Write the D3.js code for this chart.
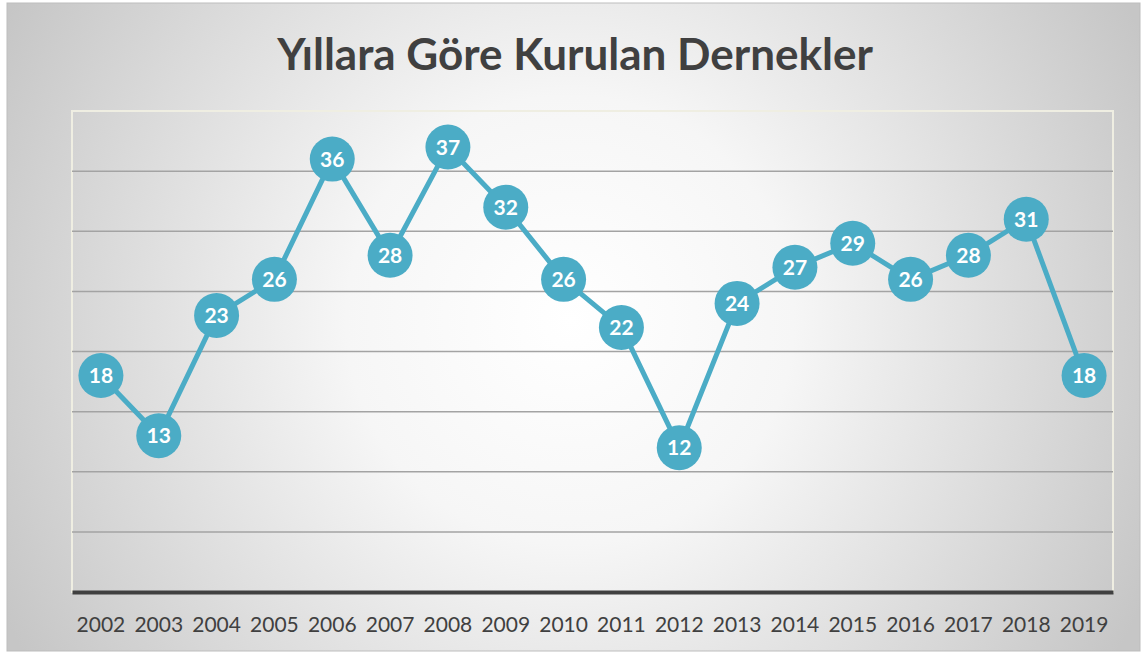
<!DOCTYPE html>
<html><head><meta charset="utf-8">
<script src="https://cdn.jsdelivr.net/npm/d3@7"></script>
<style>html,body{margin:0;padding:0;background:#fff;}svg{display:block;}</style>
</head><body>
<script>
const years = ["2002","2003","2004","2005","2006","2007","2008","2009","2010","2011","2012","2013","2014","2015","2016","2017","2018","2019"];
const counts = [18,13,23,26,36,28,37,32,26,22,12,24,27,29,26,28,31,18];
const yTicks = [0,5,10,15,20,25,30,35,40];
const title = "Yıllara Göre Kurulan Dernekler";

(function(){
const W = 1141, H = 653;
const svg = d3.select("body").append("svg").attr("width", W).attr("height", H);
const defs = svg.append("defs");
const grad = defs.append("radialGradient").attr("id","bg")
  .attr("gradientUnits","userSpaceOnUse").attr("cx",570).attr("cy",320).attr("r",640);
grad.append("stop").attr("offset","0%").attr("stop-color","#ffffff");
grad.append("stop").attr("offset","35%").attr("stop-color","#f6f6f6");
grad.append("stop").attr("offset","100%").attr("stop-color","#c6c6c6");

svg.append("rect").attr("x",7).attr("y",3).attr("width",1133).attr("height",648)
  .attr("fill","url(#bg)").attr("stroke","#bdbdbd").attr("stroke-width",1);

const pL = 72, pR = 1113, pT = 111, pB = 592;
const x = d3.scaleBand().domain(years).range([pL,pR]);
const y = d3.scaleLinear().domain([0,40]).range([pB, pT]);

svg.append("rect").attr("x",pL).attr("y",pT).attr("width",pR-pL).attr("height",pB-pT)
  .attr("fill","none").attr("stroke","#efeee2").attr("stroke-width",2);

svg.append("g").selectAll("line").data(yTicks.filter(t=>t>0 && t<40)).join("line")
  .attr("x1",pL).attr("x2",pR).attr("y1",d=>y(d)).attr("y2",d=>y(d))
  .attr("stroke","#a3a3a3").attr("stroke-width",1.5);

const xAxis = d3.axisBottom(x).tickSize(0).tickPadding(25);
const gx = svg.append("g").attr("transform",`translate(0,${pB})`).call(xAxis);
gx.select(".domain").attr("stroke","#404040").attr("stroke-width",4);
gx.selectAll("text").attr("font-family","Lato, 'Open Sans', sans-serif").attr("font-size",21)
  .attr("fill","#404040");

svg.append("text").attr("x",575).attr("y",70).attr("text-anchor","middle")
  .attr("font-family","Lato, 'Open Sans', sans-serif").attr("font-weight","bold").attr("font-size",44)
  .attr("fill","#404040").text(title);

const cx = d => x(d) + x.bandwidth()/2;
const line = d3.line().x((d,i)=>cx(years[i])).y(d=>y(d));
svg.append("path").datum(counts).attr("d",line).attr("fill","none")
  .attr("stroke","#4bacc6").attr("stroke-width",5).attr("stroke-linejoin","round");

const pts = svg.append("g").selectAll("g").data(counts).join("g")
  .attr("transform",(d,i)=>`translate(${cx(years[i])},${y(d)})`);
pts.append("circle").attr("r",22.5).attr("fill","#4bacc6");
pts.append("text").attr("text-anchor","middle").attr("dy","0.36em")
  .attr("font-family","Lato, 'Open Sans', sans-serif").attr("font-weight","bold").attr("font-size",21)
  .attr("fill","#ffffff").text(d=>d);
})();
</script>
</body></html>
